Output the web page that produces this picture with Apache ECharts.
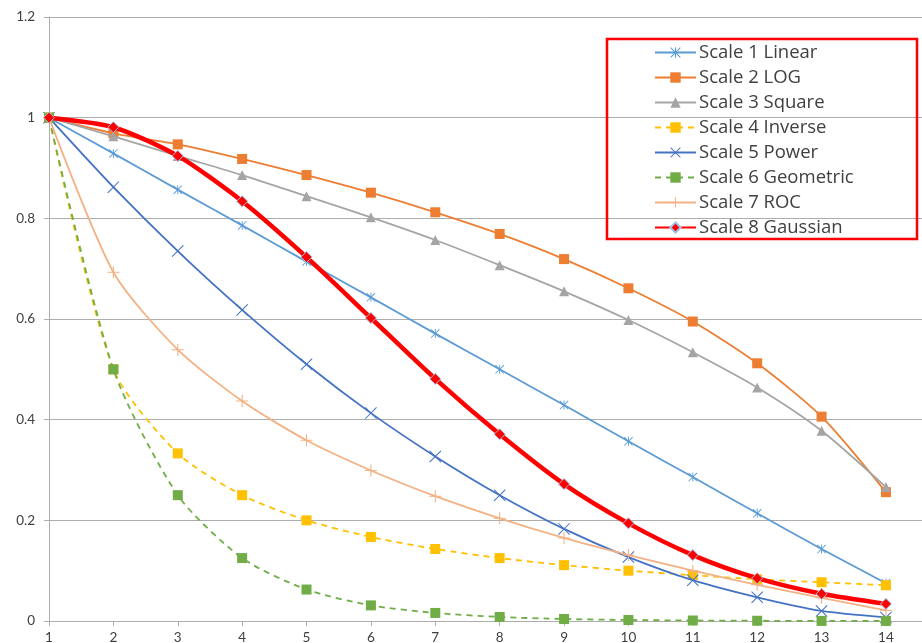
<!DOCTYPE html>
<html>
<head>
<meta charset="utf-8">
<script src="https://cdn.jsdelivr.net/npm/echarts@6/dist/echarts.min.js"></script>
<style>
html,body{margin:0;padding:0;background:#fff;}
#chart{width:922px;height:643px;}
</style>
</head>
<body>
<div id="chart"></div>
<script>
const categories = [1,2,3,4,5,6,7,8,9,10,11,12,13,14];
const yTicks = [0,0.2,0.4,0.6,0.8,1,1.2];
const seriesNames = ['Scale 1 Linear','Scale 2 LOG','Scale 3 Square','Scale 4 Inverse','Scale 5 Power','Scale 6 Geometric','Scale 7 ROC','Scale 8 Gaussian'];
const scale1Linear = [1,0.929,0.857,0.786,0.714,0.643,0.571,0.5,0.429,0.357,0.286,0.214,0.143,0.075];
const scale2Log = [1,0.969,0.947,0.918,0.886,0.851,0.812,0.769,0.719,0.661,0.595,0.512,0.406,0.256];
const scale3Square = [1,0.963,0.924,0.886,0.844,0.802,0.757,0.707,0.655,0.598,0.534,0.464,0.378,0.266];
const scale4Inverse = [1,0.5,0.333,0.25,0.2,0.167,0.143,0.125,0.111,0.1,0.091,0.083,0.077,0.071];
const scale5Power = [1,0.862,0.735,0.618,0.51,0.413,0.327,0.25,0.183,0.127,0.081,0.047,0.02,0.007];
const scale6Geometric = [1,0.5,0.25,0.125,0.0625,0.031,0.016,0.008,0.004,0.002,0.001,0.0005,0.0002,0.0001];
const scale7Roc = [1,0.693,0.539,0.437,0.359,0.299,0.248,0.204,0.165,0.131,0.1,0.072,0.046,0.021];
const scale8Gaussian = [1,0.981,0.924,0.834,0.723,0.602,0.481,0.371,0.272,0.194,0.131,0.085,0.054,0.034];

const FONT = 'Lato';
const LEGEND_FONT = 'Open Sans';
const asterisk = 'path://M0,0.7L0.7,0L10,9.3L9.3,10Z M9.3,0L10,0.7L0.7,10L0,9.3Z M4.5,0L5.5,0L5.5,10L4.5,10Z';
const xMark = 'path://M0,0.6L0.6,0L10,9.4L9.4,10Z M9.4,0L10,0.6L0.6,10L0,9.4Z';
const plusMark = 'path://M4.55,0L5.45,0L5.45,10L4.55,10Z M0,4.55L10,4.55L10,5.45L0,5.45Z';

function pts(arr){ return categories.map((c,i)=>[c,arr[i]]); }

const styles = [
  {data:scale1Linear, color:'#5B9BD5', width:1.8, type:'solid', symbol:asterisk, size:9},
  {data:scale2Log, color:'#ED7D31', width:1.8, type:'solid', symbol:'rect', size:10},
  {data:scale3Square, color:'#A5A5A5', width:1.8, type:'solid', symbol:'triangle', size:10},
  {data:scale4Inverse, color:'#FFC000', width:1.8, type:[6,5], symbol:'rect', size:10},
  {data:scale5Power, color:'#4472C4', width:1.8, type:'solid', symbol:xMark, size:12},
  {data:scale6Geometric, color:'#70AD47', width:1.8, type:[6,5], symbol:'rect', size:10},
  {data:scale7Roc, color:'#F4B183', width:1.8, type:'solid', symbol:plusMark, size:12},
  {data:scale8Gaussian, color:'#FF0000', width:4.5, type:'solid', symbol:'diamond', size:11}
];

const series = styles.map((s,i)=>({
  name: seriesNames[i],
  type: 'line',
  data: pts(s.data),
  smooth: 0.25,
  symbol: s.symbol,
  symbolSize: s.size,
  showAllSymbol: true,
  lineStyle: {color:s.color, width:s.width, type:s.type},
  itemStyle: {color:s.color, borderColor: i===7 ? '#9DC3E6' : s.color, borderWidth: i===7 ? 1 : 0},
  emphasis: {disabled:true},
  animation: false,
  z: 2 + i
}));

const chart = echarts.init(document.getElementById('chart'));
chart.setOption({
  backgroundColor:'#fff',
  animation:false,
  grid:{left:49, right:0, top:17, bottom:22, containLabel:false, outerBoundsMode:'none'},
  graphic:[{
    type:'rect', z:100, silent:true,
    shape:{x:607, y:39, width:310, height:200},
    style:{fill:'rgba(0,0,0,0)', stroke:'#FF0000', lineWidth:2.5}
  }],
  legend:{
    orient:'vertical',
    left:654, top:43,
    padding:0,
    itemWidth:41, itemHeight:13, itemGap:6,
    textStyle:{fontFamily:LEGEND_FONT, fontSize:18.5, color:'#404040', padding:[0,0,0,-2]},
    data: seriesNames
  },
  xAxis:{
    type:'value', min:1, max:14.56, interval:1,
    axisLine:{show:true, lineStyle:{color:'#ADADAD', width:1}},
    axisTick:{show:true, length:5, lineStyle:{color:'#ADADAD'}, customValues:categories},
    axisLabel:{color:'#404040', fontFamily:FONT, fontSize:13.5, margin:10, customValues:categories,
      formatter:v=>String(v)},
    splitLine:{show:false}
  },
  yAxis:{
    type:'value', min:0, max:1.2, interval:0.2,
    axisLine:{show:true, lineStyle:{color:'#ADADAD', width:1}},
    axisTick:{show:true, length:5, lineStyle:{color:'#ADADAD'}},
    axisLabel:{color:'#404040', fontFamily:FONT, fontSize:13.5, margin:14,
      formatter:v=>String(+v.toFixed(1))},
    splitLine:{show:true, lineStyle:{color:'#ADADAD', width:1}}
  },
  series: series
});
</script>
</body>
</html>
